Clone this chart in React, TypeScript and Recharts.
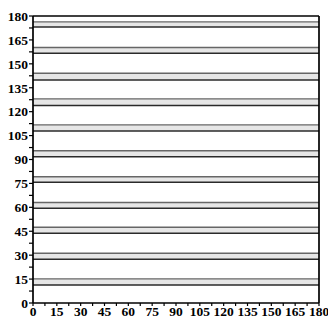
import React from "react";
import {
  ComposedChart,
  XAxis,
  YAxis,
  ReferenceArea,
  ReferenceLine,
} from "recharts";

const lowerLines = [11.3, 27.4, 43.7, 59.4, 75.7, 91.8, 107.9, 123.8, 139.9, 156.6, 173.1];
const upperLines = [15.1, 31.2, 47.5, 63.0, 79.2, 95.5, 111.7, 128.0, 144.1, 160.2, 176.3];
const axisTicks = [0, 7.5, 15, 22.5, 30, 37.5, 45, 52.5, 60, 67.5, 75, 82.5, 90, 97.5, 105, 112.5, 120, 127.5, 135, 142.5, 150, 157.5, 165, 172.5, 180];
const domain: [number, number] = [0, 180];

const fmt = (v: number) => (v % 15 === 0 ? String(v) : "");

const tickStyle = {
  fontFamily: "'Liberation Serif', 'Times New Roman', serif",
  fontWeight: 700,
  fontSize: 13.5,
  fill: "#000",
};

export default function App() {
  return (
    <div style={{ position: "absolute", left: 0, top: 0, background: "#fff" }}>
      <ComposedChart
        width={328}
        height={321}
        data={[{ x: 0 }, { x: 180 }]}
        margin={{ top: 16, right: 9, bottom: 0, left: 0 }}
      >
        <XAxis
          dataKey="x"
          type="number"
          domain={domain}
          ticks={axisTicks}
          tickFormatter={fmt}
          interval={0}
          height={18}
          tickSize={3}
          tickMargin={0}
          axisLine={{ stroke: "#000", strokeWidth: 1.7 }}
          tickLine={{ stroke: "#000", strokeWidth: 1.2 }}
          tick={tickStyle}
          allowDataOverflow
        />
        <YAxis
          type="number"
          domain={domain}
          ticks={axisTicks}
          tickFormatter={fmt}
          interval={0}
          width={33}
          tickSize={4}
          tickMargin={1}
          axisLine={{ stroke: "#000", strokeWidth: 1.7 }}
          tickLine={{ stroke: "#000", strokeWidth: 1.2 }}
          tick={tickStyle}
          allowDataOverflow
        />
        {lowerLines.map((lo, i) => (
          <ReferenceArea
            key={"a" + i}
            x1={0}
            x2={180}
            y1={lo}
            y2={upperLines[i]}
            fill="#e6e6e6"
            fillOpacity={1}
            stroke="none"
            ifOverflow="hidden"
          />
        ))}
        {upperLines.map((v, i) => (
          <ReferenceLine key={"u" + i} y={v} stroke="#666" strokeWidth={1.4} />
        ))}
        {lowerLines.map((v, i) => (
          <ReferenceLine key={"l" + i} y={v} stroke="#2a2a2a" strokeWidth={1.5} />
        ))}
        <ReferenceLine y={180} stroke="#000" strokeWidth={1.7} />
        <ReferenceLine x={180} stroke="#000" strokeWidth={1.7} />
      </ComposedChart>
    </div>
  );
}
